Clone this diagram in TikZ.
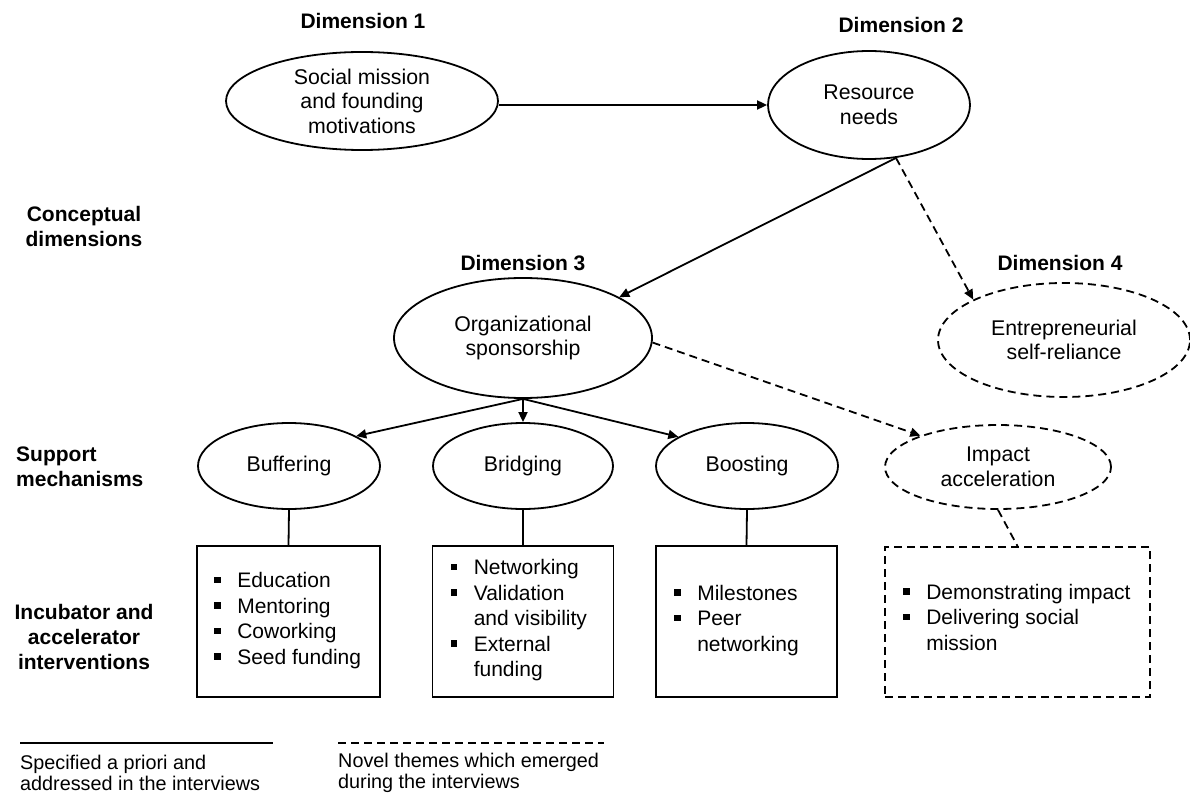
\documentclass[tikz,border=0pt]{standalone}
\usepackage{fontspec}
\setmainfont{Liberation Sans}
\usetikzlibrary{shapes.geometric,arrows.meta}
\newcommand\mybul{\makebox[23pt][l]{\rule[4.5pt]{6.5pt}{6.5pt}}}
\newcommand\myind{\hspace*{23pt}}
\begin{document}
\begin{tikzpicture}[x=1pt,y=-1pt,
  lw/.style={line width=1.8pt},
  dsh/.style={dash pattern=on 8pt off 5pt},
  ell/.style={ellipse,draw,lw,inner sep=0pt,align=center,font=\fontsize{21.3}{24.5}\selectfont},
  dell/.style={ell,dsh},
  boxn/.style={rectangle,draw,lw,inner sep=0pt},
  dboxn/.style={boxn,dsh},
  btext/.style={anchor=west,inner sep=0pt,align=left,font=\fontsize{21}{25.5}\selectfont},
  arr/.style={lw,-{Triangle[length=10pt,width=9pt]}},
  lbl/.style={inner sep=0pt,font=\fontsize{21}{25}\selectfont\bfseries},
  leg/.style={anchor=west,inner sep=0pt,align=left,font=\fontsize{19.8}{21.5}\selectfont}
]
\useasboundingbox (0,0) rectangle (1190,794);

% dimension labels
\node[lbl] (L1) at (363,21) {Dimension 1};
\node[lbl] (L2) at (901,25) {Dimension 2};
\node[lbl] (L3) at (523,263) {Dimension 3};
\node[lbl] (L4) at (1060,263) {Dimension 4};

% row labels
\node[lbl,align=center] (R1) at (84,226) {Conceptual\\dimensions};
\node[lbl,align=left,anchor=west] (R2) at (16,467) {Support\\mechanisms};
\node[lbl,align=center] (R3) at (84,637) {Incubator and\\accelerator\\interventions};

% ellipses
\node[ell,minimum width=272pt,minimum height=98pt] (D1) at (362,101) {Social mission\\and founding\\motivations};
\node[ell,minimum width=202pt,minimum height=108pt] (D2) at (869,105) {Resource\\needs};
\node[ell,minimum width=258pt,minimum height=120pt] (D3) at (523,338) {Organizational\\sponsorship};
\node[dell,minimum width=252pt,minimum height=114pt] (D4) at (1064,340) {Entrepreneurial\\self-reliance};

\node[ell,minimum width=182pt,minimum height=86pt] (Buf) at (289,466) {Buffering};
\node[ell,minimum width=180pt,minimum height=86pt] (Bri) at (523,466) {Bridging};
\node[ell,minimum width=182pt,minimum height=86pt] (Boo) at (747,466) {Boosting};
\node[dell,minimum width=226pt,minimum height=84pt] (Imp) at (998,467) {Impact\\acceleration};

% boxes
\node[boxn,minimum width=183pt,minimum height=151pt] (B1) at (288.5,621.5) {};
\node[boxn,minimum width=181pt,minimum height=151pt] (B2) at (523,621.5) {};
\node[boxn,minimum width=181pt,minimum height=151pt] (B3) at (746.5,621.5) {};
\node[dboxn,minimum width=265pt,minimum height=150pt] (B4) at (1017.5,622) {};

\node[btext] (T1) at ([xshift=18pt,yshift=1pt]B1.west) {\mybul Education\\\mybul Mentoring\\\mybul Coworking\\\mybul Seed funding};
\node[btext] (T2) at ([xshift=19pt,yshift=1pt]B2.west) {\mybul Networking\\\mybul Validation\\\myind and visibility\\\mybul External\\\myind funding};
\node[btext] (T3) at ([xshift=19pt,yshift=1pt]B3.west) {\mybul Milestones\\\mybul Peer\\\myind networking};
\node[btext] (T4) at ([xshift=19pt,yshift=5pt]B4.west) {\mybul Demonstrating impact\\\mybul Delivering social\\\myind mission};

% connectors
\draw[arr] (D1.east |- D2.west) -- (D2.west);
\draw[arr] (D2.-63) -- (D3.23);
\draw[arr,dsh] (D2.-63) -- (D4.156);
\draw[arr,dsh] (D3.-2) -- (Imp.158);
\draw[arr] (D3.south) -- (Buf.24);
\draw[arr] (D3.south) -- (Bri.north);
\draw[arr] (D3.south) -- (Boo.157);
\draw[lw] (Buf.south) -- (B1.north);
\draw[lw] (Bri.south) -- (B2.north);
\draw[lw] (Boo.south) -- (B3.north);
\draw[lw,dsh] (Imp.south) -- (B4.north);

% legend
\coordinate (G1a) at (20,743);
\coordinate (G1b) at (273,743);
\coordinate (G2a) at (338,743);
\coordinate (G2b) at (604,743);
\draw[lw] (G1a) -- (G1b);
\draw[lw,dsh] (G2a) -- (G2b);
\node[leg] (GT1) at (20,773) {Specified a priori and\\addressed in the interviews};
\node[leg] (GT2) at (338,773) {Novel themes which emerged\\during the interviews};
\end{tikzpicture}
\end{document}
